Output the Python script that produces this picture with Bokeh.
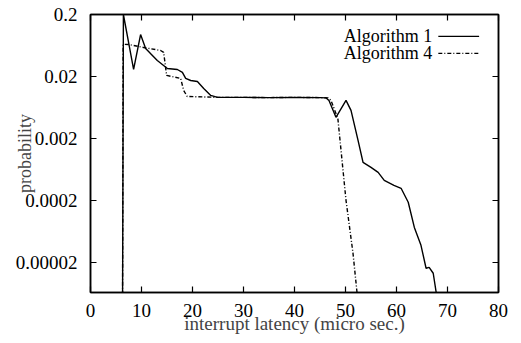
from bokeh.plotting import figure
from bokeh.models import FixedTicker, LogAxis, LinearAxis, Label, Arrow, Range1d
from bokeh.embed import file_html
from bokeh.resources import INLINE

# ---- data ----
alg1_x = [6.29, 6.45, 8.45, 9.82, 10.81, 13.10, 15.07, 17.03, 18.02, 18.66, 19.65, 20.96,
          22.2, 23.58, 24.9, 30, 35, 40, 45, 46.2, 46.76, 48.13, 50.1, 51.08, 52.46, 53.44,
          55.0, 56.4, 57.6, 59.5, 60.9, 62.3, 63.5, 64.8, 65.8, 66.4, 67.2, 67.85]
alg1_y = [6e-6, 0.2, 0.0259, 0.095, 0.0566, 0.0362, 0.0269, 0.0259, 0.0232, 0.0186, 0.0172, 0.0166,
          0.0128, 0.00988, 0.00917, 0.0092, 0.0091, 0.0092, 0.0091, 0.0090, 0.0082, 0.00437, 0.0082,
          0.00566, 0.00186, 0.00082, 0.00068, 0.000566, 0.00042, 0.000349, 0.000313, 0.000186,
          7.3e-5, 3.76e-5, 1.6e-5, 1.65e-5, 1.33e-5, 6e-6]

alg4_x = [6.29, 6.4, 7.47, 10.41, 13.75, 14.34, 14.93, 17.68, 18.27, 18.96, 25, 30, 35, 40, 45,
          46.6, 47.15, 48.5, 50.1, 51.47, 52.3]
alg4_y = [6e-6, 0.066, 0.0656, 0.0587, 0.0525, 0.0488, 0.0208, 0.0186, 0.0119, 0.0095, 0.0092,
          0.0092, 0.0091, 0.0092, 0.0091, 0.0090, 0.0082, 0.0042, 0.0002, 2.8e-5, 6e-6]

series_names = ["Algorithm 1", "Algorithm 4"]
x_ticks = [0, 10, 20, 30, 40, 50, 60, 70, 80]
y_ticks = [2e-5, 2e-4, 2e-3, 2e-2, 2e-1]
y_tick_labels = ["0.00002", "0.0002", "0.002", "0.02", "0.2"]
x_label = "interrupt latency (micro sec.)"
y_label = "probability"

FONT = "Liberation Serif"

p = figure(width=521, height=343, y_axis_type="log",
           x_range=Range1d(0, 80), y_range=Range1d(6.5e-6, 0.2),
           output_backend="svg", toolbar_location=None,
           min_border_left=90, min_border_right=23, min_border_top=14, min_border_bottom=51)

p.grid.visible = False
p.background_fill_color = "white"
p.border_fill_color = "white"
p.outline_line_color = "black"
p.outline_line_width = 1.5

p.line(alg1_x, alg1_y, line_color="black", line_width=1.4)
p.line(alg4_x, alg4_y, line_color="black", line_width=1.4, line_dash="4 2 1 2")

def style_axis(ax, show_labels=True, standoff=12):
    ax.axis_line_color = "black"
    ax.axis_line_width = 1.5
    ax.major_tick_in = 6
    ax.major_tick_out = 0
    ax.major_tick_line_color = "black"
    ax.major_tick_line_width = 1.2
    ax.minor_tick_line_color = None
    ax.major_label_text_font = FONT
    ax.major_label_text_color = "black"
    ax.major_label_standoff = standoff
    if show_labels:
        ax.major_label_text_font_size = "19px"
    else:
        ax.major_label_text_font_size = "0px"
        ax.major_label_text_alpha = 0

xb = p.xaxis[0]
xb.ticker = FixedTicker(ticks=x_ticks)
style_axis(xb, True, 11)
xb.axis_label = x_label
xb.axis_label_text_font = FONT
xb.axis_label_text_font_style = "normal"
xb.axis_label_text_font_size = "19px"
xb.axis_label_standoff = -7

yl = p.yaxis[0]
yl.ticker = FixedTicker(ticks=y_ticks)
yl.major_label_overrides = {t: s for t, s in zip(y_ticks, y_tick_labels)}
style_axis(yl, True, 13)
# y-axis title tucked into the gap between the tick labels, as in the reference
yl.axis_label = y_label
yl.axis_label_text_font = FONT
yl.axis_label_text_font_style = "normal"
yl.axis_label_text_font_size = "18px"
yl.axis_label_standoff = -22

xt = LinearAxis(ticker=FixedTicker(ticks=x_ticks))
style_axis(xt, False, 0)
p.add_layout(xt, "above")

yr = LogAxis(ticker=FixedTicker(ticks=y_ticks))
style_axis(yr, False, 0)
p.add_layout(yr, "right")

# legend (text left of sample line, as in the reference)
leg_y = [0.0884, 0.047]
dashes = ["solid", "4 2 1 2"]
for name, ly, d in zip(series_names, leg_y, dashes):
    p.add_layout(Label(x=67.0, y=ly, text=name, text_font=FONT, text_font_size="18px",
                       text_align="right", text_baseline="middle", text_color="black"))
    p.add_layout(Arrow(x_start=68.2, y_start=ly, x_end=76.2, y_end=ly, start=None, end=None,
                       line_color="black", line_width=1.2, line_dash=d))

open("out.html", "w").write(file_html(p, INLINE))
